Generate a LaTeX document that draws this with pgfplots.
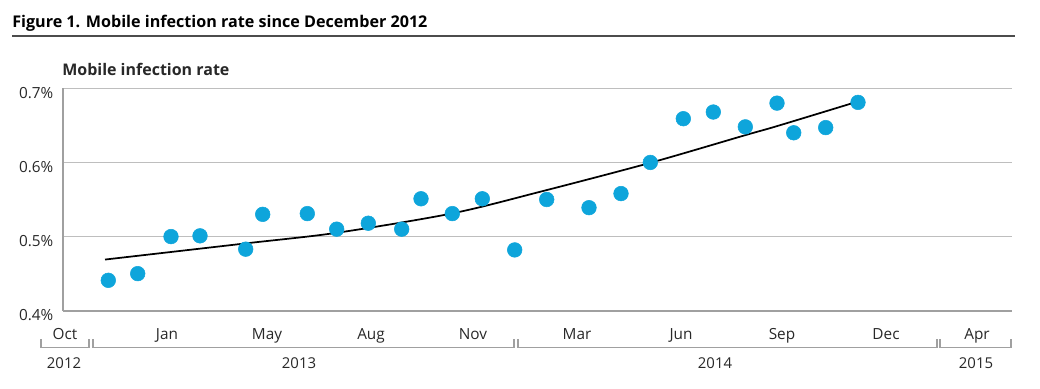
\documentclass[border=0pt]{standalone}
\usepackage{pgfplots}
\pgfplotsset{compat=1.18}
\usepackage{fontspec}
\setmainfont{Open Sans}
\definecolor{fsblue}{RGB}{14,165,219}
\definecolor{gridgray}{RGB}{190,190,190}
\definecolor{axgray}{RGB}{160,160,160}
\definecolor{txt}{RGB}{40,40,40}
\begin{document}
\begin{tikzpicture}
\path[use as bounding box] (0pt,0pt) rectangle (780pt,-291.75pt);
\begin{axis}[
  at={(47.03pt,-233.03pt)}, anchor=south west,
  scale only axis, width=711.75pt, height=166.8pt,
  xmin=62.7, xmax=1011.7, ymin=0.4, ymax=0.7,
  axis x line=bottom, axis y line=left,
  axis line style={-, axgray, line width=1.3pt},
  x axis line style={line width=1.6pt},
  ytick={0.4,0.5,0.6,0.7},
  yticklabels={0.4\%,0.5\%,0.6\%,0.7\%},
  ymajorgrids, grid style={gridgray, line width=1.1pt},
  xtick={65,167,267,371,473,577,681,782,886,977},
  xticklabels={Oct,Jan,May,Aug,Nov,Mar,Jun,Sep,Dec,Apr},
  major tick length=0pt,
  tick label style={font=\fontsize{11.5}{13}\selectfont, text=txt},
  yticklabel style={anchor=east, xshift=-3.5pt, yshift=-3.5pt},
  xticklabel style={yshift=-10pt},
  clip=false,
]
\addplot[black, line width=1.3pt, smooth, tension=0.5] coordinates {
  (105,0.469) (245.7,0.4908) (336.7,0.5051) (452.3,0.5313)
  (540,0.5604) (650.3,0.5995) (745.3,0.6368) (777,0.649) (855,0.681)
};
\addplot[fsblue, only marks, mark=*, mark size=5.5pt, mark options={fill=fsblue, draw=fsblue}] coordinates {
  (108.3,0.441) (137.7,0.450) (171,0.500) (200,0.501) (245.7,0.483)
  (262.7,0.530) (307.3,0.531) (336.7,0.510) (368.3,0.518) (401.7,0.510)
  (421,0.551) (452.3,0.531) (482.3,0.551) (514.7,0.482) (546.7,0.550)
  (589,0.539) (621,0.558) (650.3,0.600) (683.3,0.659) (713.3,0.668)
  (745.3,0.648) (777,0.680) (793.7,0.640) (825.7,0.647) (858,0.681)
};
\end{axis}
\begin{scope}[x=0.75pt, y=-0.75pt]
  \node[anchor=base west, inner sep=0pt, font=\fontsize{12.1}{14}\selectfont\bfseries] at (12,27.7) {Figure 1. Mobile infection rate since December 2012};
  \draw[line width=1.5pt, black!70] (12,35.7) -- (1015,35.7);
  \node[anchor=base west, inner sep=0pt, font=\fontsize{12}{14}\selectfont\bfseries, text=txt] at (62,75) {Mobile infection rate};
  \foreach \a/\b in {41/89, 93/514, 518/937, 940/1011} {
    \draw[axgray, line width=0.9pt] (\a,339) -- (\a,347.7) -- (\b,347.7) -- (\b,339);
  }
  \foreach \xx/\yy in {64/2012, 299/2013, 715/2014, 976/2015} {
    \node[anchor=base, inner sep=0pt, font=\fontsize{11.2}{13}\selectfont, text=txt] at (\xx,368) {\yy};
  }
\end{scope}
\end{tikzpicture}
\end{document}
